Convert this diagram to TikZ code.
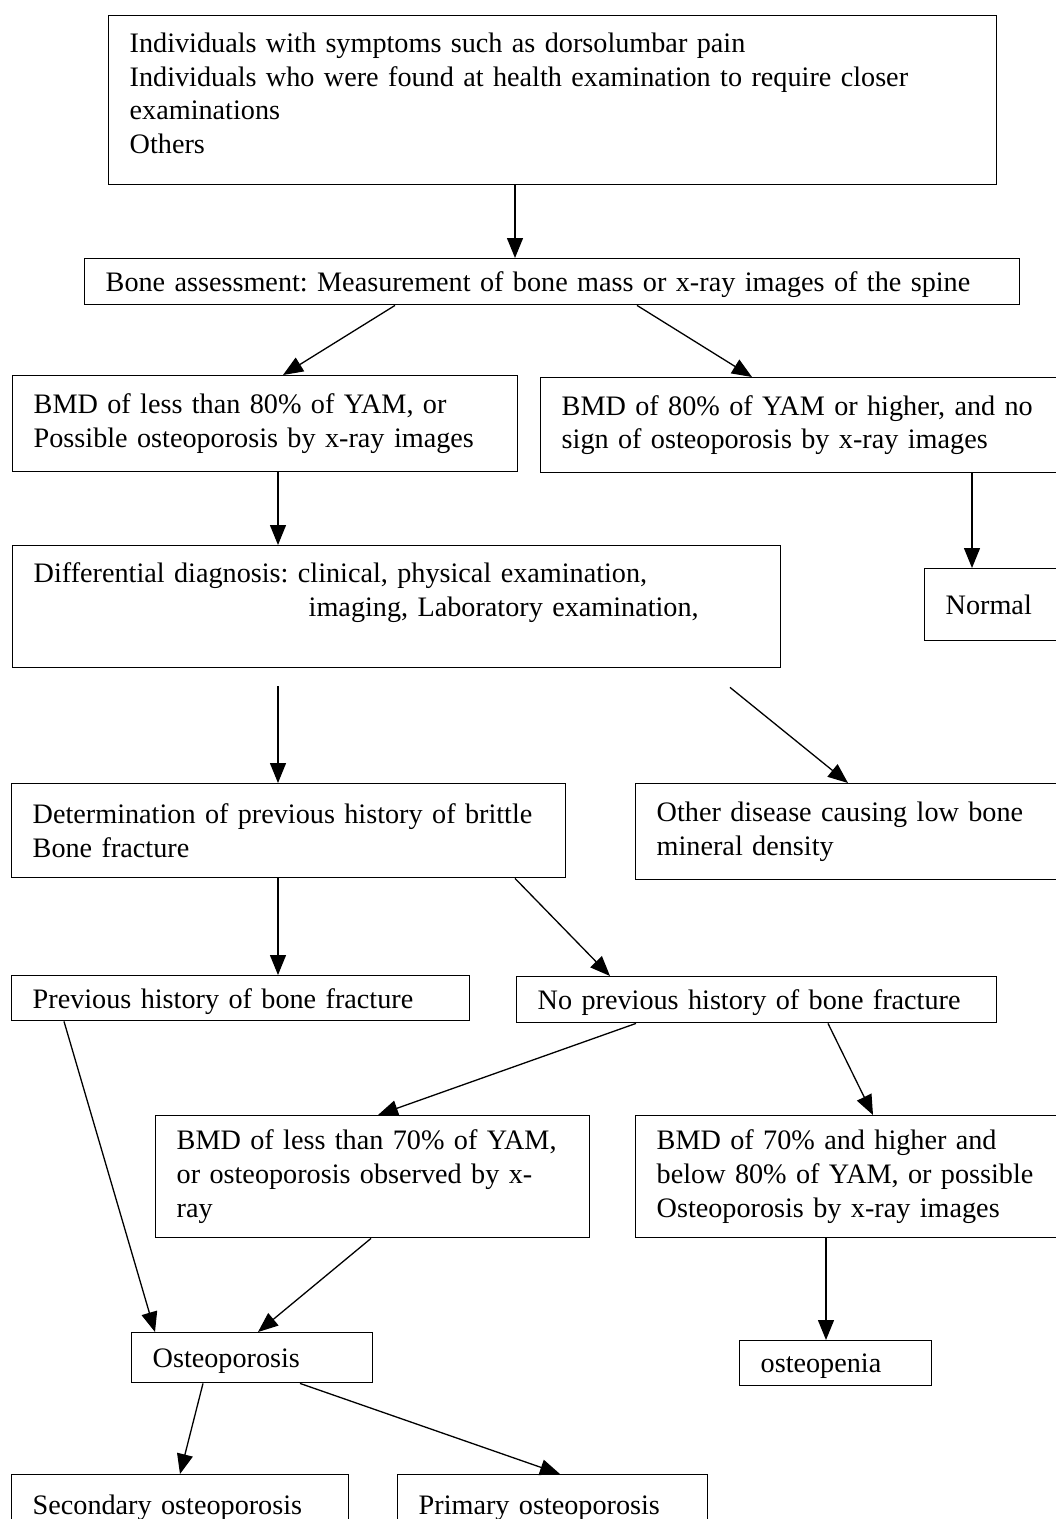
\documentclass[tikz,border=0pt]{standalone}
\usepackage{fontspec}
\setmainfont{Liberation Serif}
\usetikzlibrary{arrows.meta}
\frenchspacing
\begin{document}
\begin{tikzpicture}[x=1pt,y=-1pt,
    box/.style={draw, line width=1.4pt, anchor=north west, align=left,
      inner xsep=21pt, inner ysep=0pt,
      font=\fontsize{28.2}{33.7}\selectfont\frenchspacing},
    oneline/.style={box, text depth=0pt},
    arr/.style={-{Triangle[length=20pt,width=16pt]}, line width=1.3pt}]
  \clip (0,0) rectangle (1056,1519);
  \fill[white] (0,0) rectangle (1056,1519);

  % Who is examined
  \node[box, text width=846pt, minimum height=169pt] (who) at (108,15)
    {Individuals with symptoms such as dorsolumbar pain\\
     Individuals who were found at health examination to require closer\\
     examinations\\
     Others\\[-20pt] \mbox{}};
  \node[oneline, text width=893pt, minimum height=46pt] (bone) at (84,258)
    {Bone assessment: Measurement of bone mass or x-ray images of the spine};

  % First split
  \node[box, text width=463pt, minimum height=96pt] (low80) at (12,375)
    {BMD of less than 80\% of YAM, or\\
     Possible osteoporosis by x-ray images};
  \node[box, text width=518pt, minimum height=95pt] (high80) at (540,377)
    {BMD of 80\% of YAM or higher, and no\\
     sign of osteoporosis by x-ray images};
  \node[box, text width=726pt, minimum height=122pt] (diff) at (12,545)
    {Differential diagnosis: clinical, physical examination,\\
     \hspace*{275pt}imaging, Laboratory examination,\\ \mbox{}};
  \node[oneline, text width=158pt, minimum height=72pt] (normal) at (924,568)
    {Normal};

  % After differential diagnosis
  \node[box, text width=512pt, minimum height=94pt] (history) at (11,783)
    {Determination of previous history of brittle\\
     Bone fracture};
  \node[box, text width=458pt, minimum height=96pt] (other) at (635,783)
    {Other disease causing low bone\\
     mineral density};
  \node[oneline, text width=416pt, minimum height=45pt] (prev) at (11,975)
    {Previous history of bone fracture};
  \node[oneline, text width=438pt, minimum height=46pt] (noprev) at (516,976)
    {No previous history of bone fracture};

  % BMD grades
  \node[box, text width=392pt, minimum height=122pt] (low70) at (155,1115)
    {BMD of less than 70\% of YAM,\\
     or osteoporosis observed by x-\\
     ray};
  \node[box, text width=458pt, minimum height=122pt] (mid) at (635,1115)
    {BMD of 70\% and higher and\\
     below 80\% of YAM, or possible\\
     Osteoporosis by x-ray images};
  \node[oneline, text width=199pt, minimum height=50pt] (osteo) at (131,1332)
    {Osteoporosis};
  \node[oneline, text width=150pt, minimum height=45pt] (penia) at (739,1340)
    {osteopenia};
  \node[oneline, text width=295pt, minimum height=60pt] (second) at (11,1474)
    {Secondary osteoporosis};
  \node[oneline, text width=268pt, minimum height=60pt] (primary) at (397,1474)
    {Primary osteoporosis};

  % Connectors
  \draw[arr] ([xshift=407pt]who.south west) -- ([xshift=431pt]bone.north west);
  \draw[arr] ([xshift=311pt]bone.south west) -- ([xshift=271pt]low80.north west);
  \draw[arr] ([xshift=553pt]bone.south west) -- ([xshift=212pt]high80.north west);
  \draw[arr] ([xshift=266pt]low80.south west) -- ([xshift=266pt]diff.north west);
  \draw[arr] ([xshift=432pt]high80.south west) -- ([xshift=48pt]normal.north west);
  \draw[arr] ([xshift=266pt,yshift=-18pt]diff.south west) -- ([xshift=267pt]history.north west);
  \draw[arr] ([xshift=718pt,yshift=-19pt]diff.south west) -- ([xshift=213pt]other.north west);
  \draw[arr] ([xshift=267pt]history.south west) -- ([xshift=267pt]prev.north west);
  \draw[arr] ([xshift=504pt]history.south west) -- ([xshift=94pt]noprev.north west);
  \draw[arr] ([xshift=53pt]prev.south west) -- ([xshift=24pt]osteo.north west);
  \draw[arr] ([xshift=120pt]noprev.south west) -- ([xshift=223pt]low70.north west);
  \draw[arr] ([xshift=312pt]noprev.south west) -- ([xshift=238pt]mid.north west);
  \draw[arr] ([xshift=216pt]low70.south west) -- ([xshift=127pt]osteo.north west);
  \draw[arr] ([xshift=191pt]mid.south west) -- ([xshift=87pt]penia.north west);
  \draw[arr] ([xshift=72pt]osteo.south west) -- ([xshift=169pt]second.north west);
  \draw[arr] ([xshift=169pt]osteo.south west) -- ([xshift=163pt]primary.north west);
\end{tikzpicture}
\end{document}
